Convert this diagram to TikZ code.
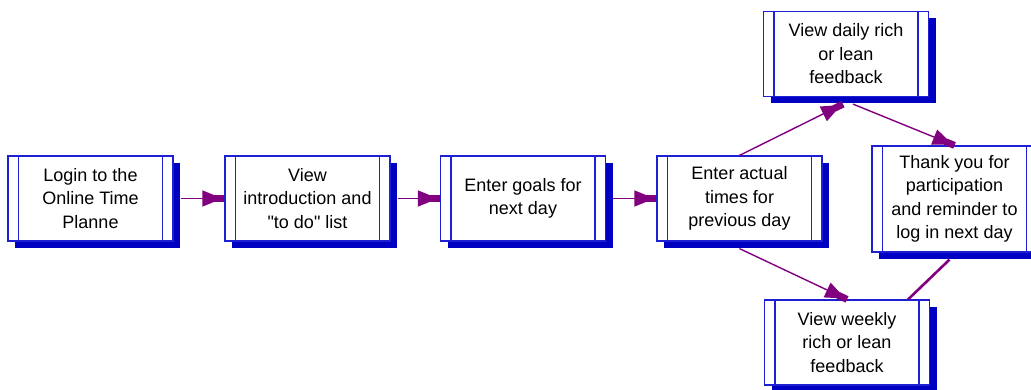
\documentclass[tikz,border=0pt]{standalone}
\usepackage{fontspec}
\setmainfont{Liberation Sans}
\usetikzlibrary{arrows.meta,shadows}
\definecolor{boxblue}{RGB}{30,30,210}
\definecolor{shadeblue}{RGB}{0,0,195}
\definecolor{flowpurple}{RGB}{128,0,128}
\tikzset{
  procbox/.style={draw=boxblue, line width=1.2pt, fill=white, rectangle,
    minimum width=165pt, minimum height=85pt, inner sep=0pt,
    align=center, font=\fontsize{18}{23.5}\selectfont,
    drop shadow={shadow xshift=7pt, shadow yshift=-7pt, fill=shadeblue, opacity=1},
    path picture={\draw[boxblue, line width=1.2pt]
      ([xshift=10.5pt]path picture bounding box.north west) -- ([xshift=10.5pt]path picture bounding box.south west)
      ([xshift=-10.5pt]path picture bounding box.north east) -- ([xshift=-10.5pt]path picture bounding box.south east);}},
  flow/.style={draw=flowpurple, line width=1.4pt,
    -{Triangle[length=20pt,width=16pt,sep=-8pt] Rectangle[length=10pt,width=7pt]}},
  link/.style={draw=flowpurple, line width=2.6pt}
}
\begin{document}
\begin{tikzpicture}[x=1pt,y=-1pt]
  \useasboundingbox (0,0) rectangle (1031,390);
  \clip (0,0) rectangle (1031,390);

  % Main row
  \node[procbox] (login) at (90.5,198.5) {Login to the\\Online Time\\Planne};
  \node[procbox] (intro) at (307.5,198.5) {View\\introduction and\\\textquotedbl to do\textquotedbl{} list};
  \node[procbox] (goals) at (523,198.5) {Enter goals for\\next day};
  \node[procbox] (actual) at (739.5,198.5) {Enter actual\\times for\\previous day};

  % Feedback branches
  \node[procbox] (daily) at (846,54) {View daily rich\\or lean\\feedback};
  \node[procbox] (weekly) at (847,342.5) {View weekly\\rich or lean\\feedback};

  % Last step
  \node[procbox, minimum height=106pt] (thanks) at (954.5,199) {Thank you for\\participation\\and reminder to\\log in next day};

  % Connectors
  \draw[flow] ([xshift=7pt]login.east) -- (intro.west);
  \draw[flow] ([xshift=7pt]intro.east) -- (goals.west);
  \draw[flow] ([xshift=7pt]goals.east) -- (actual.west);
  \draw[flow] (actual.north) -- ([xshift=-3pt,yshift=-7pt]daily.south);
  \draw[flow] ([xshift=7pt,yshift=-7pt]daily.south) -- (thanks.north);
  \draw[flow] ([yshift=-7pt]actual.south) -- (weekly.north);
  \draw[link] ([xshift=-5pt,yshift=-7pt]thanks.south) -- ([xshift=-22pt]weekly.north east);
\end{tikzpicture}
\end{document}
